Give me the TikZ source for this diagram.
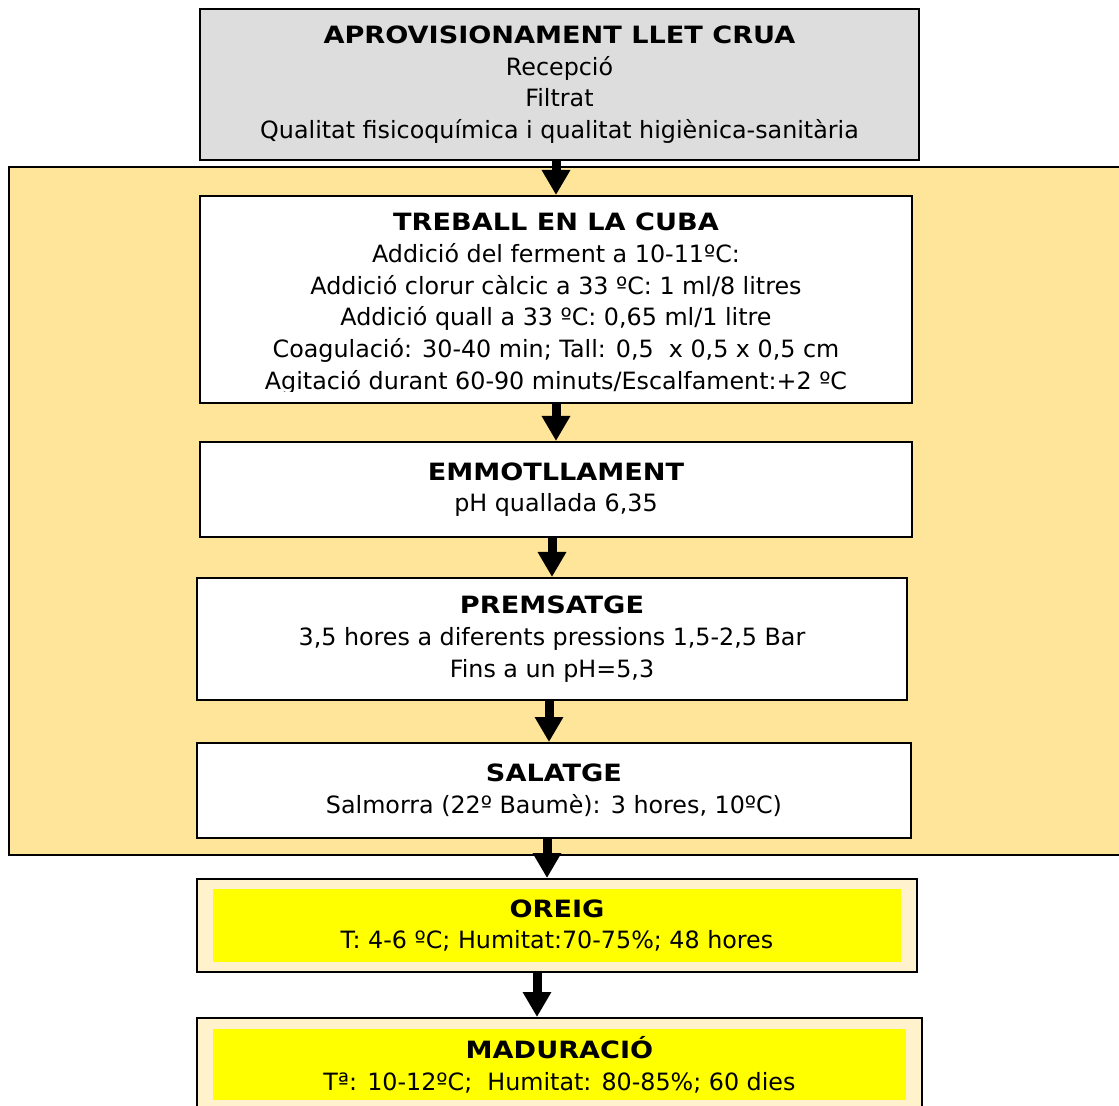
\documentclass[tikz,border=0pt]{standalone}
\usepackage{fontspec}
\setmainfont{DejaVu Sans}
\newfontfamily\titolfont{DejaVu Sans Bold}[FakeStretch=1.14]
\usetikzlibrary{arrows.meta}

\definecolor{grisclar}{HTML}{DDDDDD}
\definecolor{daurat}{HTML}{FFE599}
\definecolor{crema}{HTML}{FFF2CC}
\definecolor{groc}{HTML}{FFFF00}

\newcommand{\titol}[1]{{\titolfont #1}}

\tikzset{
    etapa/.style={draw=black, line width=1pt, fill=white, align=center, inner sep=0pt,
        font=\fontsize{11.9}{15.85}\selectfont},
    interior/.style={fill=groc, align=center, inner sep=0pt,
        font=\fontsize{11.9}{15.85}\selectfont},
    fletxa/.style={line width=4.5pt, -{Triangle[width=13.5pt,length=12.5pt]}}
}

\begin{document}
\begin{tikzpicture}[x=0.5pt,y=-0.5pt]
    \useasboundingbox (0,0) rectangle (1119,1106);

    % Zona de treball (fons daurat)
    \draw[line width=1pt, fill=daurat] (9,167) rectangle (1135,855);

    % Aprovisionament
    \node[etapa, fill=grisclar, minimum width=359.5pt, minimum height=75.5pt] (aprov) at (559.5,84.5)
    {\titol{APROVISIONAMENT LLET CRUA}\\Recepció\\Filtrat\\Qualitat fisicoquímica i qualitat higiènica-sanitària};

    % Treball en la cuba
    \node[etapa, minimum width=356pt, minimum height=103.5pt] (cuba) at (556,299.5) {};
    \begin{scope}
        \clip (200,196) rectangle (912,392);
        \node[align=center, inner sep=0pt, font=\fontsize{11.9}{15.85}\selectfont] (cubatext) at (556,303.5)
        {\titol{TREBALL EN LA CUBA}\\Addició del ferment a 10-11ºC:\\Addició clorur càlcic a 33 ºC: 1 ml/8 litres\\Addició quall a 33 ºC: 0,65 ml/1 litre\\Coagulació: 30-40 min; Tall: 0,5~ x 0,5 x 0,5 cm\\Agitació durant 60-90 minuts/Escalfament:+2 ºC};
    \end{scope}

    % Emmotllament
    \node[etapa, minimum width=356pt, minimum height=47.5pt] (emmot) at (556,489.5)
    {\titol{EMMOTLLAMENT}\\pH quallada 6,35};

    % Premsatge
    \node[etapa, minimum width=355pt, minimum height=61pt] (prems) at (552,639)
    {\titol{PREMSATGE}\\3,5 hores a diferents pressions 1,5-2,5 Bar\\Fins a un pH=5,3};

    % Salatge
    \node[etapa, minimum width=357pt, minimum height=47.5pt] (salat) at (554,790.5)
    {\titol{SALATGE}\\Salmorra (22º Baumè): 3 hores, 10ºC)};

    % Oreig
    \node[etapa, fill=crema, minimum width=360pt, minimum height=46.5pt] (oreig) at (557,925.5) {};
    \node[interior, minimum width=344pt, minimum height=36.5pt] (oreigtext) at (557,925.5)
    {\titol{OREIG}\\T: 4-6 ºC; Humitat:70-75\%; 48 hores};

    % Maduracio
    \node[etapa, fill=crema, minimum width=362.5pt, minimum height=81pt] (madur) at (559.5,1099) {};
    \node[interior, minimum width=346.5pt, minimum height=35.5pt] (madurtext) at (559.5,1064.5)
    {\titol{MADURACIÓ}\\Tª: 10-12ºC;~ Humitat: 80-85\%; 60 dies};

    % Fletxes
    \draw[fletxa] (cuba.north |- aprov.south) -- (cuba.north);
    \draw[fletxa] (cuba.south) -- (emmot.north);
    \draw[fletxa] (prems.north |- emmot.south) -- (prems.north);
    \draw[fletxa] ([xshift=-1.5pt]prems.south) -- ([xshift=-1.5pt]prems.south |- salat.north);
    \draw[fletxa] ([xshift=-3.5pt]salat.south) -- ([xshift=-3.5pt]salat.south |- oreig.north);
    \draw[fletxa] ([xshift=-10pt]oreig.south) -- ([xshift=-10pt]oreig.south |- madur.north);
\end{tikzpicture}
\end{document}
